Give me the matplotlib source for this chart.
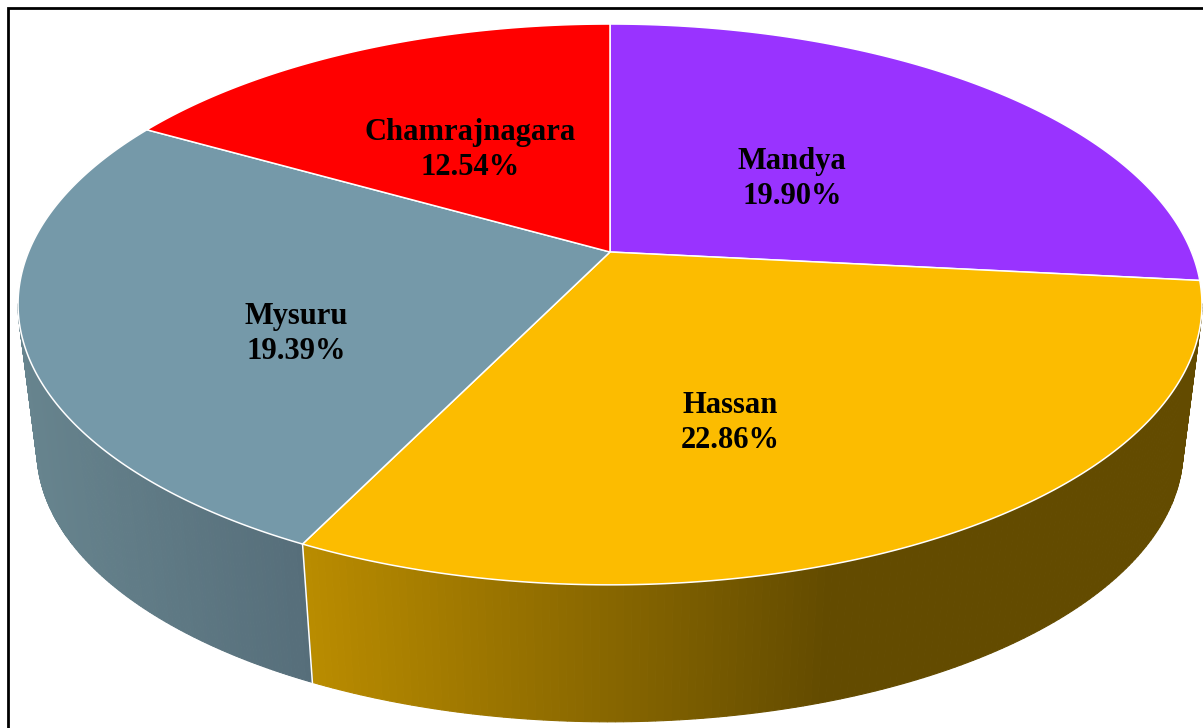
import numpy as np
import matplotlib
matplotlib.use("Agg")
import matplotlib.pyplot as plt
from matplotlib.colors import to_rgb

# =====================
# Data (clockwise from 12 o'clock)
# =====================
districts = ["Mandya", "Hassan", "Mysuru", "Chamrajnagara"]
shares = [19.90, 22.86, 19.39, 12.54]
top_colors = ["#9933FF", "#FCBC00", "#7599A9", "#FF0000"]
# side wall gradient, left colour then right colour
side_colors = {"Hassan": ("#BA8C00", "#634B00"), "Mysuru": ("#67848E", "#566E7A")}
label_xy = [(792, 179), (730, 423), (296, 334), (470, 150)]

# =====================
# Perspective of the pie disc, in image pixels
# =====================
cx, cy = 610, 252
A, B, k = 581.5, 270.6, 0.187
shrink, y_van = 0.968, 4866


def top_rim(theta):
    u, v = np.cos(theta), np.sin(theta)
    d = 1 + k * v
    return cx + A * u / d, cy - B * v / d


def bottom_rim(theta):
    x, y = top_rim(theta)
    return cx + shrink * (x - cx), y_van + shrink * (y - y_van)


fig = plt.figure(figsize=(12.03, 7.28), dpi=100)
ax = fig.add_axes([0, 0, 1, 1])
ax.set_xlim(0, 1203)
ax.set_ylim(728, 0)
ax.axis("off")

fracs = np.array(shares) / sum(shares)
edges = np.pi / 2 - 2 * np.pi * np.concatenate([[0], np.cumsum(fracs)])

# silhouette limits of the wall
right_limit = np.arctan2(-k, 1)
left_limit = -np.pi - right_limit

# =====================
# Side walls
# =====================
for i, name in enumerate(districts):
    if name not in side_colors:
        continue
    start = min(edges[i], right_limit)
    stop = max(edges[i + 1], left_limit)
    thetas = np.linspace(start, stop, 160)
    xt, yt = top_rim(thetas)
    xb, yb = bottom_rim(thetas)
    left, right = to_rgb(side_colors[name][0]), to_rgb(side_colors[name][1])
    x0, x1 = xt.min(), xt.max()
    if name == "Hassan":
        x1 = 830
    for j in range(len(thetas) - 1):
        t = np.clip((0.5 * (xt[j] + xt[j + 1]) - x0) / (x1 - x0), 0, 1)
        c = tuple(np.array(left) * (1 - t) + np.array(right) * t)
        ax.fill([xt[j], xt[j + 1], xb[j + 1], xb[j]],
                [yt[j], yt[j + 1], yb[j + 1], yb[j]],
                color=c, lw=0.8, zorder=2)

# white seam between the two walls
sx, sy = top_rim(edges[2])
bx, by = bottom_rim(edges[2])
ax.plot([sx, bx], [sy, by], color="white", lw=1.1, zorder=3)

# =====================
# Top faces
# =====================
for i in range(len(districts)):
    thetas = np.linspace(edges[i], edges[i + 1], 200)
    x, y = top_rim(thetas)
    ax.fill(np.r_[cx, x], np.r_[cy, y], facecolor=top_colors[i],
            edgecolor="white", lw=1.1, joinstyle="round", zorder=4)

for name, share, (lx, ly) in zip(districts, shares, label_xy):
    ax.text(lx, ly, f"{name}\n{share:.2f}%", ha="center", va="center",
            family="Liberation Serif", weight="bold", fontsize=22,
            linespacing=1.27, color="black", zorder=5)

# frame, only left and top are inside the picture
ax.plot([8, 8, 1203], [728, 8, 8], color="black", lw=2.0, zorder=6,
        solid_joinstyle="miter")

fig.savefig("out.png", dpi=100, facecolor="white")
